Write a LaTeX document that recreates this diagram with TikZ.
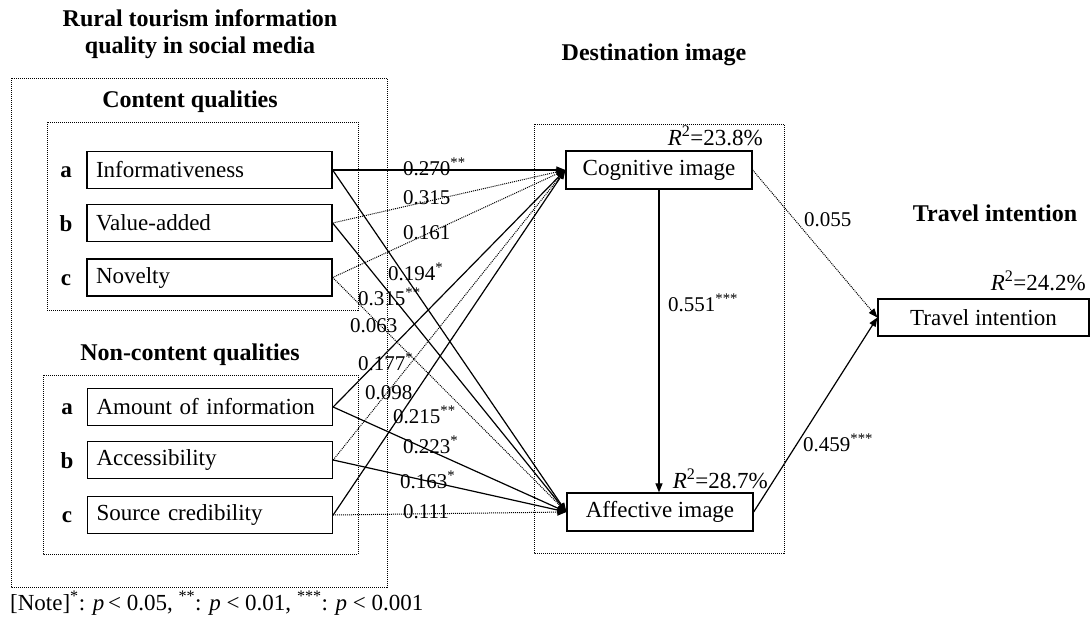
\documentclass[tikz,border=0pt]{standalone}
\usepackage{fontspec}
\setmainfont{Liberation Serif}
\usetikzlibrary{arrows.meta}
\tikzset{
  box/.style={draw, line width=1.3pt, minimum height=37pt, inner sep=0pt, font=\fontsize{23}{27}\selectfont},
  lbox/.style={box, minimum width=245pt, text width=227pt, align=left},
  frame/.style={line width=1pt, dash pattern=on 1pt off 1pt},
  title/.style={font=\fontsize{24}{27}\selectfont\bfseries, align=center, inner sep=0pt},
  letter/.style={font=\fontsize{23}{27}\selectfont\bfseries, inner sep=0pt},
  coef/.style={font=\fontsize{21}{24}\selectfont, anchor=west, inner sep=0pt},
  rsq/.style={font=\fontsize{23}{27}\selectfont, anchor=east, inner sep=0pt},
  sol/.style={line width=1.2pt, -{Triangle[length=9pt,width=7pt]}},
  dot/.style={line width=1pt, dash pattern=on 1pt off 1pt, -{Triangle[length=9pt,width=7pt]}},
}
\begin{document}
\begin{tikzpicture}[x=1pt,y=-1pt]
\useasboundingbox (0,0) rectangle (1092,621);
% frames
\draw[frame] (11,78) rectangle (387,587);
\draw[frame] (47,122) rectangle (358,310);
\draw[frame] (43,375) rectangle (358,554);
\draw[frame] (534,124) rectangle (784,553);
% titles
\node[title] (t1) at (200,34) {Rural tourism information\\quality in social media};
\node[title] (t2) at (190,102) {Content qualities};
\node[title] (t3) at (190,355) {Non-content qualities};
\node[title] (t4) at (654,55) {Destination image};
\node[title] (t5) at (995,213) {Travel intention};
% letters
\node[letter] (la1) at (66,172) {a};
\node[letter] (lb1) at (66,224) {b};
\node[letter] (lc1) at (66,280) {c};
\node[letter] (la2) at (67,409) {a};
\node[letter] (lb2) at (67,461) {b};
\node[letter] (lc2) at (67,517) {c};
% boxes
\node[lbox] (inf) at (209.5,170) {Informativeness};
\node[lbox] (val) at (209.5,223) {Value-added};
\node[lbox] (nov) at (209.5,277.5) {Novelty};
\node[lbox] (amt) at (210,407) {Amount of information};
\node[lbox] (acc) at (210,460) {Accessibility};
\node[lbox] (src) at (210,515) {Source credibility};
\node[box, minimum width=186pt, minimum height=38pt] (cog) at (659,170) {Cognitive image};
\node[box, minimum width=186pt, minimum height=38pt] (aff) at (660,512) {Affective image};
\node[box, minimum width=211pt] (tra) at (983.5,317.5) {Travel intention};
% R squared
\node[rsq] (r1) at (763,136) {\textit{R}\textsuperscript{2}=23.8\%};
\node[rsq] (r2) at (768,479) {\textit{R}\textsuperscript{2}=28.7\%};
\node[rsq] (r3) at (1086,281) {\textit{R}\textsuperscript{2}=24.2\%};
% connectors
\draw[sol] (inf.east) -- (cog.west);
\draw[sol] (inf.east) -- (aff.west);
\draw[dot] (val.east) -- (cog.west);
\draw[sol] (val.east) -- (aff.west);
\draw[dot] (nov.east) -- (cog.west);
\draw[dot] (nov.east) -- (aff.west);
\draw[sol] (amt.east) -- (cog.west);
\draw[sol] (amt.east) -- (aff.west);
\draw[dot] (acc.east) -- (cog.west);
\draw[sol] (acc.east) -- (aff.west);
\draw[sol] (src.east) -- (cog.west);
\draw[dot] (src.east) -- (aff.west);
\draw[sol] (cog.south) -- (cog.south |- aff.north);
\draw[dot] (cog.east) -- (tra.west);
\draw[sol] (aff.east) -- (tra.west);
% coefficients
\node[coef] (c1) at (403,167) {0.270\textsuperscript{**}};
\node[coef] (c2) at (403,198) {0.315};
\node[coef] (c3) at (403,233) {0.161};
\node[coef] (c4) at (388,272) {0.194\textsuperscript{*}};
\node[coef] (c5) at (358,297) {0.315\textsuperscript{**}};
\node[coef] (c6) at (350,326) {0.063};
\node[coef] (c7) at (358,362) {0.177\textsuperscript{*}};
\node[coef] (c8) at (365,393) {0.098};
\node[coef] (c9) at (393,415) {0.215\textsuperscript{**}};
\node[coef] (c10) at (403,445) {0.223\textsuperscript{*}};
\node[coef] (c11) at (400,480) {0.163\textsuperscript{*}};
\node[coef] (c12) at (403,512) {0.111};
\node[coef] (c13) at (668,303) {0.551\textsuperscript{***}};
\node[coef] (c14) at (804,220) {0.055};
\node[coef] (c15) at (803,443) {0.459\textsuperscript{***}};
% note
\node[font=\fontsize{23}{27}\selectfont, anchor=west, inner sep=0pt] (note) at (10,603)
  {[Note]\textsuperscript{*}: \textit{p}\,< 0.05, \textsuperscript{**}: \textit{p} < 0.01, \textsuperscript{***}: \textit{p} < 0.001};
\end{tikzpicture}
\end{document}
